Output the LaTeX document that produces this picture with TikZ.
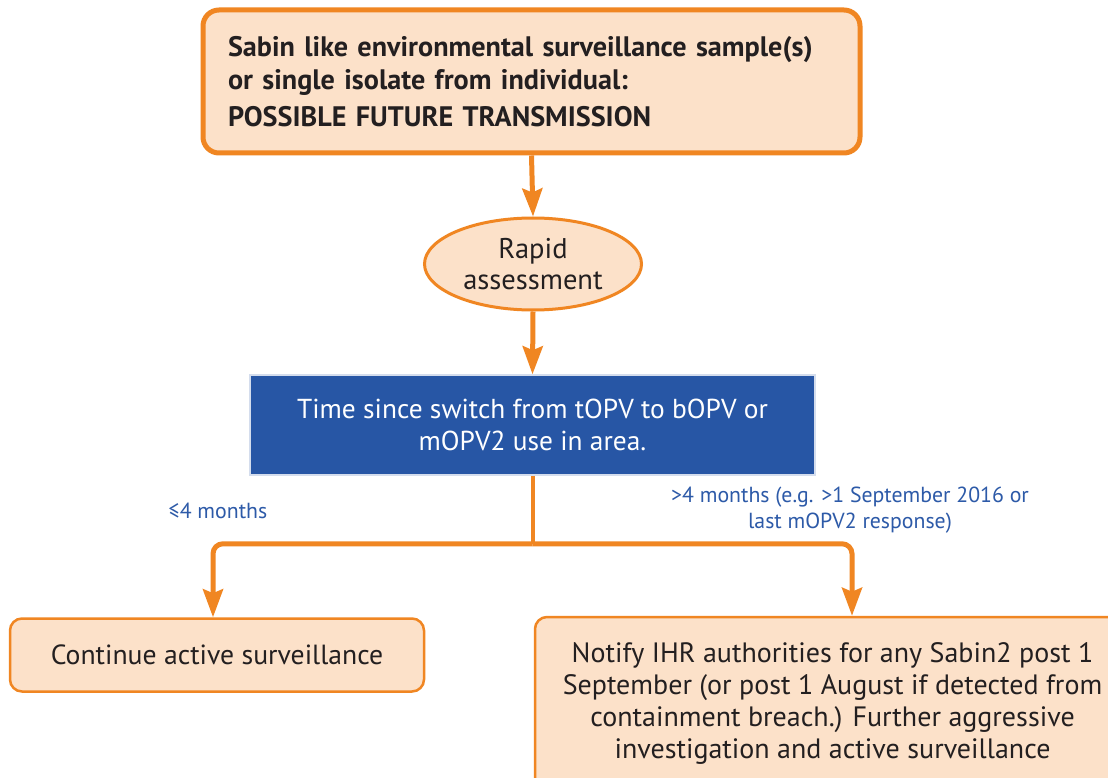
\documentclass[tikz,border=0pt]{standalone}
\usepackage{fontspec}
\setmainfont{PT Sans}
\usetikzlibrary{arrows.meta,shapes.geometric,positioning}
\definecolor{orng}{RGB}{240,134,34}
\definecolor{peach}{RGB}{252,225,201}
\definecolor{dblue}{RGB}{39,86,165}
\definecolor{lblue}{RGB}{45,90,168}
\definecolor{ink}{RGB}{35,31,32}
\tikzset{
  box/.style={draw=orng,fill=peach,rounded corners=12pt,line width=2.5pt,text=ink,align=center,font=\fontsize{28}{32}\selectfont},
  flow/.style={draw=orng,line width=5pt,-{Stealth[width=20pt,length=28pt,inset=4pt]}},
  lbl/.style={text=lblue,align=center,font=\fontsize{21.8}{26}\selectfont}
}
\begin{document}
\begin{tikzpicture}[x=1pt,y=-1pt]
\clip (0,0) rectangle (1108,778);
\fill[white] (0,0) rectangle (1108,778);
%
\node[box,line width=5pt,rounded corners=16pt,text width=607pt,inner xsep=25pt,minimum height=143pt,align=left,font=\bfseries\fontsize{28.2}{33}\selectfont] (source) at (531.5,81.5)
  {Sabin like environmental surveillance sample(s)\\or single isolate from individual:\\[4pt]POSSIBLE FUTURE TRANSMISSION};
\node[box,ellipse,line width=3pt,inner sep=0pt,minimum width=217pt,minimum height=92pt,font=\fontsize{28.5}{31}\selectfont] (assess) at (533,264) {Rapid\\assessment};
\node[fill=dblue,draw=dblue!20,line width=1.5pt,minimum width=565pt,minimum height=100pt,text=white,align=center,font=\fontsize{27.4}{32}\selectfont] (switch) at (532.5,425)
  {Time since switch from tOPV to bOPV or\\mOPV2 use in area.};
\node[box,minimum width=414pt,minimum height=73pt,font=\fontsize{27.7}{32}\selectfont] (cont) at (217,655) {Continue active surveillance};
\node[box,minimum width=595pt,minimum height=173pt] (notify) at (832.5,703.5)
  {Notify IHR authorities for any Sabin2 post 1\\September (or post 1 August if detected from\\containment breach.) Further aggressive\\investigation and active surveillance};
%
\node[lbl] (short) at (218,511) {≤4 months};
\node[lbl] (long) at (850,510) {>4 months (e.g. >1 September 2016 or\\last mOPV2 response)};
%
\draw[flow] (source.south) -- (assess.north);
\draw[flow] (assess.south) -- (switch.north);
\path (switch.south) ++(0,68) coordinate (split);
\coordinate (rtip) at ([xshift=19.5pt]notify.north);
\draw[orng,line width=4pt] (switch.south) -- (split);
\draw[flow,rounded corners=10pt] (split) -| ([xshift=-4pt]cont.north);
\draw[flow,rounded corners=10pt] (split) -| (rtip);
\end{tikzpicture}
\end{document}
